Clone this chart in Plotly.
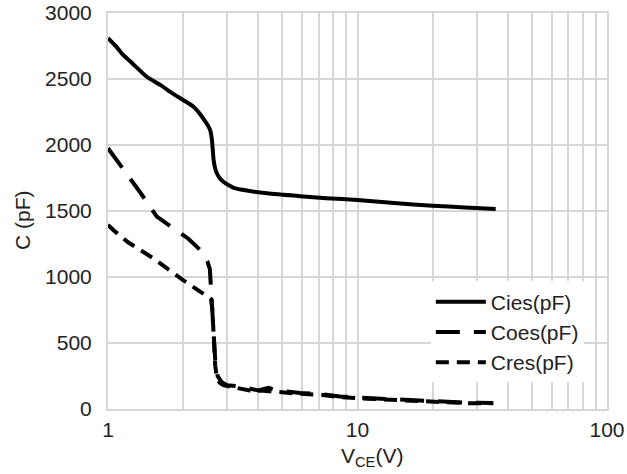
import plotly.graph_objects as go

# ---- data ----
cies_x = [1, 1.08, 1.15, 1.25, 1.43, 1.62, 1.8, 2.0, 2.2, 2.35, 2.45, 2.52, 2.57, 2.61, 2.65,
          2.69, 2.73, 2.8, 2.9, 3.05, 3.19, 3.6, 4.34, 5.9, 7.5, 10, 14, 20, 27, 35.8]
cies_y = [2810, 2745, 2682, 2620, 2517, 2455, 2395, 2341, 2290, 2230, 2180, 2145, 2110, 2038, 1886,
          1820, 1786, 1750, 1722, 1695, 1676, 1655, 1634, 1612, 1597, 1583, 1560, 1540, 1527, 1515]

coes_x = [1, 1.19, 1.34, 1.57, 1.89, 2.1, 2.38, 2.5, 2.56, 2.6, 2.63, 2.66, 2.69, 2.75, 2.85,
          3.0, 3.4, 4.0, 4.4, 4.8, 5.9, 7.1, 8.5, 10.9, 14.9, 20.2, 28.5, 35]
coes_y = [1975, 1785, 1646, 1457, 1356, 1290, 1192, 1120, 1060, 830, 760, 520, 370, 250, 205,
          180, 170, 140, 160, 140, 122, 114, 95, 83, 70, 57, 47, 45]

cres_x = [1, 1.05, 1.2, 1.52, 2.0, 2.34, 2.5, 2.59, 2.62, 2.65, 2.69, 2.73, 2.8, 2.9, 3.19,
          3.7, 4.2, 4.8, 5.9, 7.1, 8.5, 10.9, 14.9, 20.2, 28.5, 35]
cres_y = [1395, 1356, 1265, 1141, 977, 889, 850, 833, 750, 523, 330, 235, 200, 180, 165,
          140, 138, 128, 115, 108, 90, 78, 66, 53, 43, 43]

x_grid_vals = [1, 2, 3, 4, 5, 6, 7, 8, 9, 10, 20, 30, 40, 50, 60, 70, 80, 90, 100]
x_tick_text = ["1", "", "", "", "", "", "", "", "", "10", "", "", "", "", "", "", "", "", "100"]
y_tick_vals = [0, 500, 1000, 1500, 2000, 2500, 3000]

series_names = ["Cies(pF)", "Coes(pF)", "Cres(pF)"]
x_title = "V<sub>CE</sub>(V)"
y_title = "C (pF)"

fig = go.Figure()
fig.add_trace(go.Scatter(x=cies_x, y=cies_y, mode="lines", name=series_names[0],
                         line=dict(color="black", width=4, shape="spline", smoothing=0.5)))
fig.add_trace(go.Scatter(x=coes_x, y=coes_y, mode="lines", name=series_names[1],
                         line=dict(color="black", width=4, dash="24px,14px")))
fig.add_trace(go.Scatter(x=cres_x, y=cres_y, mode="lines", name=series_names[2],
                         line=dict(color="black", width=4, dash="13px,8px")))

font_family = "Liberation Sans, Arial, sans-serif"
grid_color = "#d6d6d6"
text_color = "#222222"

fig.update_layout(
    width=627, height=474,
    margin=dict(l=108, r=20, t=13, b=65),
    paper_bgcolor="white", plot_bgcolor="white",
    font=dict(family=font_family, color=text_color, size=21),
    showlegend=True,
    legend=dict(x=0.647, y=0.322, xanchor="left", yanchor="top",
                bgcolor="white", borderwidth=0,
                font=dict(size=21, color=text_color),
                itemwidth=50, tracegroupgap=0),
)
fig.update_xaxes(
    type="log", range=[0, 2], automargin=False,
    tickmode="array", tickvals=x_grid_vals, ticktext=x_tick_text,
    showgrid=True, gridcolor=grid_color, gridwidth=1.5,
    showline=True, linecolor=grid_color, linewidth=2, mirror=True,
    ticks="", ticklabelstandoff=1, ticklabeloverflow="allow",
    tickfont=dict(size=21, color=text_color),
    zeroline=False,
)
fig.update_yaxes(
    range=[0, 3000], automargin=False, tickmode="array", tickvals=y_tick_vals,
    showgrid=True, gridcolor=grid_color, gridwidth=1.5,
    showline=True, linecolor=grid_color, linewidth=2, mirror=True,
    ticks="", ticklabelstandoff=10, ticklabeloverflow="allow",
    tickfont=dict(size=21, color=text_color),
    zeroline=False,
)
fig.add_annotation(text=x_title, xref="paper", yref="paper", x=(372 - 108) / 499, y=(409 - 457) / 396,
                   showarrow=False, xanchor="center", yanchor="middle",
                   font=dict(size=21, color=text_color))
fig.add_annotation(text=y_title, xref="paper", yref="paper", x=(22 - 108) / 499, y=(409 - 220) / 396,
                   showarrow=False, xanchor="center", yanchor="middle", textangle=-90,
                   font=dict(size=21, color=text_color))

fig.write_html("out.html", config={"displayModeBar": False},
               post_script="document.body.style.margin='0';")
